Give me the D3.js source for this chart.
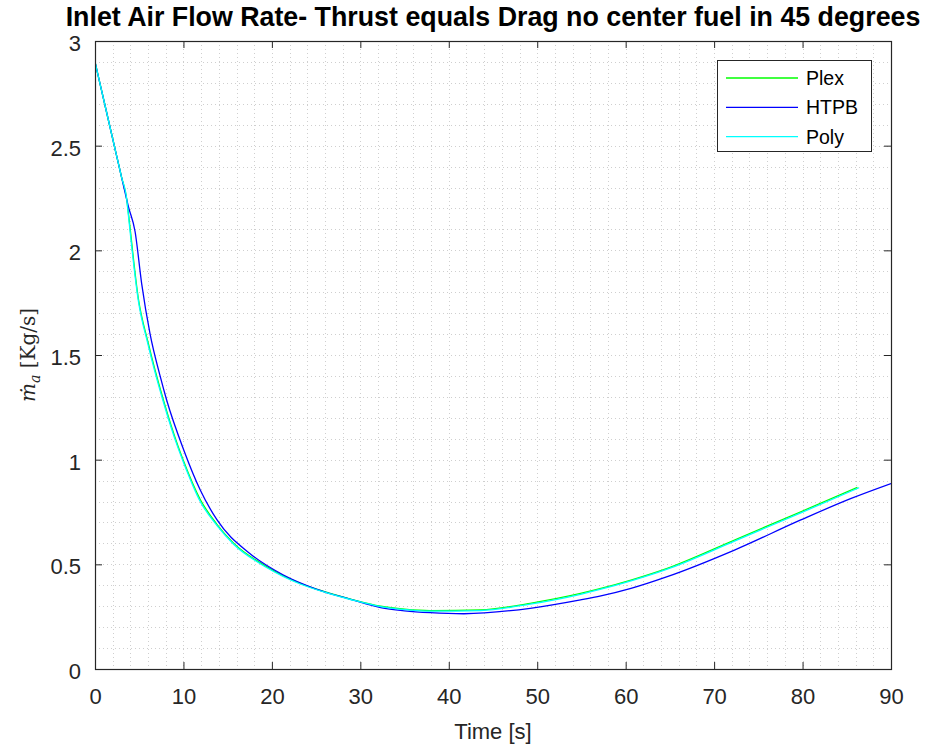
<!DOCTYPE html>
<html>
<head>
<meta charset="utf-8">
<script src="https://cdn.jsdelivr.net/npm/d3@7"></script>
<style>
  body { margin: 0; background: #fff; }
  svg { display: block; }
</style>
</head>
<body>
<svg id="chart" width="927" height="749"></svg>
<script>
// ---- data ----
const titleText = "Inlet Air Flow Rate- Thrust equals Drag no center fuel in 45 degrees";
const xLabelText = "Time [s]";
const seriesNames = ["Plex", "HTPB", "Poly"];
const seriesColors = ["#00ff00", "#0000ff", "#00ffff"];

const plexT = [0, 1.2, 2.4, 3.0, 3.6, 3.77, 4.9, 6.0, 7.7, 9.4, 10.0, 11.9, 13.8, 15.7, 19.4, 23.2, 26.6, 28.9, 32.3, 35.0, 37.9, 43.6, 49.2, 54.9, 57.2, 60.6, 64.7, 72.3, 79.8, 86.2];
const plexV = [2.90, 2.68, 2.46, 2.35, 2.24, 2.18, 1.77, 1.56, 1.29, 1.063, 0.995, 0.81, 0.69, 0.600, 0.489, 0.409, 0.361, 0.334, 0.300, 0.286, 0.279, 0.282, 0.314, 0.361, 0.385, 0.425, 0.481, 0.616, 0.751, 0.868];

const htpbT = [0, 1.2, 2.4, 3.0, 3.6, 3.77, 4.53, 5.28, 6.23, 7.36, 8.1, 10.0, 11.9, 13.8, 17.5, 21.3, 25.0, 28.9, 32.3, 35.0, 37.9, 41.7, 49.2, 54.9, 57.2, 60.6, 64.7, 72.3, 79.8, 85.5, 90.0];
const htpbV = [2.90, 2.68, 2.46, 2.35, 2.24, 2.21, 2.09, 1.84, 1.60, 1.40, 1.285, 1.05, 0.855, 0.712, 0.552, 0.449, 0.382, 0.333, 0.293, 0.278, 0.269, 0.264, 0.290, 0.330, 0.349, 0.385, 0.441, 0.568, 0.712, 0.815, 0.886];

const polyT = [0, 1.2, 2.4, 3.0, 3.6, 3.77, 4.9, 6.0, 7.7, 9.4, 10.0, 11.9, 13.8, 15.7, 19.4, 23.2, 26.6, 28.9, 32.3, 35.0, 37.9, 43.6, 49.2, 54.9, 57.2, 60.6, 64.7, 72.3, 79.8, 86.4];
const polyV = [2.90, 2.68, 2.46, 2.35, 2.24, 2.17, 1.76, 1.55, 1.28, 1.055, 0.988, 0.80, 0.685, 0.595, 0.485, 0.406, 0.359, 0.332, 0.298, 0.284, 0.276, 0.279, 0.310, 0.357, 0.381, 0.421, 0.477, 0.611, 0.746, 0.866];

const xTicks = [0, 10, 20, 30, 40, 50, 60, 70, 80, 90];
const yTicks = [0, 0.5, 1, 1.5, 2, 2.5, 3];
const yTickLabels = ["0", "0.5", "1", "1.5", "2", "2.5", "3"];
const xMinor = d3.range(0, 90.001, 2);
const yMinor = d3.range(0, 3.0001, 0.1);

// ---- layout ----
const svg = d3.select("#chart");
const L = 95, R = 891, T = 41, B = 669;
const x = d3.scaleLinear().domain([0, 90]).range([L, R]);
const y = d3.scaleLinear().domain([0, 3]).range([B, T]);
const axisColor = "#262626";
const font = "'Liberation Sans', Arial, Helvetica, sans-serif";

// grid
const grid = svg.append("g");
const gridStyle = g => g.attr("stroke", "#cfcfcf").attr("stroke-width", 1).attr("stroke-dasharray", "1,3").attr("shape-rendering", "crispEdges");
grid.selectAll(".vx").data(xMinor).enter().append("line")
  .attr("x1", d => Math.round(x(d)) + 0.5).attr("x2", d => Math.round(x(d)) + 0.5)
  .attr("y1", T).attr("y2", B).call(gridStyle);
grid.selectAll(".hy").data(yMinor).enter().append("line")
  .attr("y1", d => Math.round(y(d)) + 0.5).attr("y2", d => Math.round(y(d)) + 0.5)
  .attr("x1", L).attr("x2", R).call(gridStyle);

// lines
svg.append("defs").append("clipPath").attr("id", "clip")
  .append("rect").attr("x", L).attr("y", T).attr("width", R - L).attr("height", B - T);

const series = [
  { name: seriesNames[0], t: plexT, v: plexV, color: seriesColors[0] },
  { name: seriesNames[1], t: htpbT, v: htpbV, color: seriesColors[1] },
  { name: seriesNames[2], t: polyT, v: polyV, color: seriesColors[2] }
];
const line = d3.line().x(d => x(d[0])).y(d => y(d[1])).curve(d3.curveMonotoneX);
const lines = svg.append("g").attr("clip-path", "url(#clip)");
series.forEach(s => {
  lines.append("path")
    .datum(s.t.map((t, i) => [t, s.v[i]]))
    .attr("fill", "none")
    .attr("stroke", s.color)
    .attr("stroke-width", 1.3)
    .attr("d", line);
});

// axes
const xAxisB = d3.axisBottom(x).tickValues(xTicks).tickSizeInner(-7).tickSizeOuter(0).tickPadding(19);
const xAxisT = d3.axisTop(x).tickValues(xTicks).tickSizeInner(-7).tickSizeOuter(0).tickFormat("");
const yAxisL = d3.axisLeft(y).tickValues(yTicks).tickSizeInner(-7).tickSizeOuter(0).tickPadding(14)
  .tickFormat((d, i) => yTickLabels[i]);
const yAxisR = d3.axisRight(y).tickValues(yTicks).tickSizeInner(-7).tickSizeOuter(0).tickFormat("");

function styleAxis(g) {
  g.select(".domain").remove();
  g.selectAll(".tick line").attr("stroke", axisColor).attr("stroke-width", 1);
  g.selectAll(".tick text").attr("fill", axisColor).style("font-family", font).style("font-size", "22px");
}
svg.append("g").attr("transform", `translate(0,${B})`).call(xAxisB).call(styleAxis);
svg.append("g").attr("transform", `translate(0,${T})`).call(xAxisT).call(styleAxis);
const yl0 = svg.append("g").attr("transform", `translate(${L},0)`).call(yAxisL).call(styleAxis);
yl0.selectAll(".tick text").attr("y", 2.5);
svg.append("g").attr("transform", `translate(${R},0)`).call(yAxisR).call(styleAxis);

svg.append("rect").attr("x", L + 0.5).attr("y", T + 0.5).attr("width", R - L).attr("height", B - T)
  .attr("fill", "none").attr("stroke", axisColor).attr("stroke-width", 1.2);

// title
const title = svg.append("text").attr("x", (L + R) / 2).attr("y", 26)
  .attr("text-anchor", "middle").attr("fill", "#000")
  .style("font-family", font).style("font-weight", "bold").style("font-size", "20px")
  .text(titleText);
const tw = title.node().getComputedTextLength();
title.style("font-size", (20 * 855 / tw).toFixed(2) + "px");

// x label
svg.append("text").attr("x", (L + R) / 2).attr("y", 739).attr("text-anchor", "middle")
  .attr("fill", axisColor).style("font-family", font).style("font-size", "22px").text(xLabelText);

// y label
const yl = svg.append("text").attr("transform", "translate(35,355) rotate(-90)")
  .attr("text-anchor", "middle").attr("fill", axisColor)
  .style("font-family", "'DejaVu Serif', 'Liberation Serif', serif").style("font-size", "20px");
yl.append("tspan").style("font-style", "italic").text("ṁ");
yl.append("tspan").style("font-style", "italic").style("font-size", "14px").attr("dy", 5).text("a");
yl.append("tspan").attr("dy", -5).text(" [Kg/s]");

// legend
const lg = svg.append("g");
lg.append("rect").attr("x", 717.5).attr("y", 60.5).attr("width", 154).attr("height", 91)
  .attr("fill", "#fff").attr("stroke", axisColor).attr("stroke-width", 1);
series.forEach((s, i) => {
  const yy = 78 + i * 29.3;
  lg.append("line").attr("x1", 726).attr("x2", 798).attr("y1", yy).attr("y2", yy)
    .attr("stroke", s.color).attr("stroke-width", 1.3);
  lg.append("text").attr("x", 806).attr("y", yy).attr("dy", "0.36em")
    .attr("fill", "#000").style("font-family", font).style("font-size", "19.5px").text(s.name);
});
</script>
</body>
</html>
